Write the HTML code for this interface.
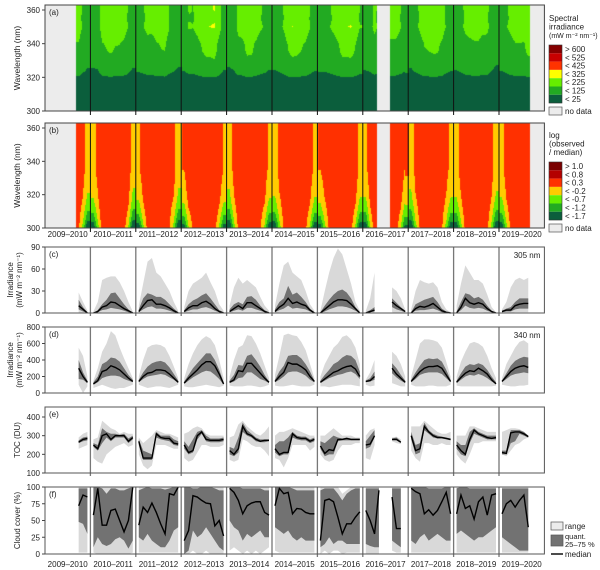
<!DOCTYPE html>
<html><head><meta charset="utf-8">
<style>
body{margin:0;background:#fff;}
#wrap{position:relative;width:600px;height:570px;overflow:hidden;font-family:"Liberation Sans",sans-serif;}
canvas,svg{position:absolute;left:0;top:0;}
</style></head>
<body>
<div id="wrap">
<canvas id="heat" width="600" height="570"></canvas>
<svg id="svg" width="600" height="570" xmlns="http://www.w3.org/2000/svg"></svg>
</div>
<script>
const N=null;
const seasons=["2009–2010","2010–2011","2011–2012","2012–2013","2013–2014","2014–2015","2015–2016","2016–2017","2017–2018","2018–2019","2019–2020"];
// (c) 305 nm irradiance
const cMed=[[N,N,N,N,N,N,N,10,5,0],[0,2,8,10,15,14,10,6,3,0],[2,10,17,18,12,12,10,7,3,0],[2,7,10,10,14,16,12,6,2,0],[2,6,10,6,14,14,10,6,2,0],[2,8,12,20,13,15,12,10,4,0],[0,5,10,15,18,18,17,12,6,0],[0,2,4,N,N,N,15,10,6,2],[0,6,9,8,10,13,8,3,1,0],[0,8,20,14,12,14,12,6,2,0],[2,4,4,10,12,13,13,N,N,N]];
const cQ75=[[N,N,N,N,N,N,N,18,8,1],[0,4,12,18,27,28,20,12,5,0],[5,20,27,25,22,22,18,12,6,1],[4,12,17,20,24,27,20,12,4,1],[5,12,15,12,22,23,18,10,4,1],[5,15,20,37,25,28,22,15,6,1],[1,10,18,25,30,32,28,20,8,1],[1,4,8,N,N,N,20,14,8,3],[1,12,15,18,20,22,15,6,2,0],[2,15,27,25,20,22,18,10,3,0],[3,6,8,15,20,20,20,N,N,N]];
const cQ25=[[N,N,N,N,N,N,N,5,2,0],[0,1,4,5,7,6,5,3,1,0],[1,5,8,9,6,6,5,3,1,0],[1,3,5,5,7,8,6,3,1,0],[1,3,5,3,7,7,5,3,1,0],[1,4,6,10,6,7,6,5,2,0],[0,2,5,7,9,9,8,6,3,0],[0,1,2,N,N,N,8,5,3,1],[0,3,4,4,5,6,4,1,0,0],[0,4,10,7,6,7,6,3,1,0],[1,2,2,5,6,6,6,N,N,N]];
const cMax=[[N,N,N,N,N,N,N,28,15,3],[2,15,45,48,50,50,42,30,15,2],[10,40,70,75,55,50,40,30,15,3],[8,30,40,44,48,55,42,30,12,3],[10,35,48,40,45,40,35,22,10,3],[10,40,65,70,55,50,45,30,12,3],[3,30,55,75,88,80,60,40,15,3],[3,20,55,N,N,N,35,30,20,5],[5,30,45,42,40,42,35,15,5,1],[10,40,65,55,45,45,40,25,8,1],[5,15,35,45,48,45,48,N,N,N]];
const cMin=[[N,N,N,N,N,N,N,0,0,0],[0,0,1,1,1,1,1,0,0,0],[0,1,1,1,1,1,1,0,0,0],[0,0,1,1,1,1,1,0,0,0],[0,1,1,1,1,1,1,0,0,0],[0,1,1,1,1,1,1,0,0,0],[0,0,1,1,1,1,1,1,0,0],[0,0,0,N,N,N,1,0,0,0],[0,0,1,1,1,1,1,0,0,0],[0,1,1,1,1,1,1,0,0,0],[0,0,0,1,1,1,1,N,N,N]];
// (d) 340 nm irradiance
const dMed=[[N,N,N,N,N,N,N,300,200,130],[110,150,260,280,330,310,280,230,180,140],[140,200,240,250,280,280,270,230,180,130],[120,180,230,280,340,380,380,330,230,110],[130,160,270,260,360,360,300,240,180,130],[140,200,250,370,350,350,320,280,200,140],[130,170,210,250,270,300,320,330,290,200],[140,150,200,N,N,N,300,230,180,130],[140,200,260,300,320,320,330,300,220,140],[130,190,240,270,260,300,270,230,160,110],[140,200,260,300,320,330,310,N,N,N]];
const dQ75=[[N,N,N,N,N,N,N,400,250,150],[130,200,350,380,430,420,380,300,220,160],[160,250,320,360,380,390,370,310,230,150],[140,220,300,360,420,480,480,400,280,130],[150,220,340,330,450,470,400,320,220,140],[160,260,330,450,460,460,420,350,260,150],[150,220,280,350,380,430,460,450,400,260],[150,180,260,N,N,N,360,300,220,150],[160,250,330,400,420,410,420,380,280,160],[150,240,320,350,340,360,340,280,200,130],[150,240,330,390,420,440,430,N,N,N]];
const dQ25=[[N,N,N,N,N,N,N,170,160,120],[100,130,180,200,210,210,200,170,150,130],[130,170,200,210,220,230,220,190,160,120],[110,150,190,220,250,270,260,220,170,100],[120,140,180,190,250,250,210,170,150,120],[130,160,200,250,260,260,240,210,160,130],[120,150,180,200,220,230,250,260,230,170],[130,140,160,N,N,N,240,190,150,120],[130,170,220,240,250,250,250,230,180,130],[120,160,200,220,210,230,210,180,140,110],[130,170,210,230,240,250,240,N,N,N]];
const dMax=[[N,N,N,N,N,N,N,550,450,200],[150,300,500,600,750,700,550,420,300,180],[200,400,550,580,590,580,550,450,320,180],[180,350,480,580,650,690,660,580,400,180],[200,400,550,580,700,690,600,480,330,180],[220,450,700,720,700,690,620,520,350,180],[200,350,450,550,600,680,700,650,550,350],[160,250,400,N,N,N,500,450,350,200],[200,400,600,650,650,640,620,550,380,200],[200,380,500,600,620,600,560,450,300,180],[180,350,450,550,620,640,600,N,N,N]];
const dMin=[[N,N,N,N,N,N,N,100,0,80],[60,80,100,80,60,50,60,60,80,100],[100,80,60,70,80,80,70,60,80,100],[80,70,70,80,90,100,90,80,70,90],[90,80,80,80,90,90,80,70,80,100],[90,80,80,90,100,90,80,80,80,100],[80,80,70,80,90,100,100,100,90,80],[100,80,90,N,N,N,120,100,80,80],[100,80,80,80,90,90,80,80,80,100],[90,80,80,80,80,80,80,80,80,90],[100,90,80,80,90,90,100,N,N,N]];
// (e) total ozone column
const eMed=[[N,N,N,N,N,N,N,265,280,285],[250,230,300,310,280,300,300,300,270,290],[270,180,180,180,310,290,285,285,260,255],[250,210,220,300,320,280,275,275,275,280],[220,200,230,350,310,300,280,270,275,275],[230,200,210,210,310,290,285,285,270,280],[245,205,225,220,280,280,285,280,280,280],[250,255,300,N,N,N,280,280,265,N],[300,220,230,350,320,300,290,290,285,280],[250,220,200,280,330,310,300,290,285,290],[210,205,315,320,320,310,295,N,N,N]];
const eQ75=[[N,N,N,N,N,N,N,275,290,295],[260,250,340,320,310,310,305,310,285,300],[280,220,210,200,320,300,300,300,280,270],[270,240,280,320,330,300,285,285,285,290],[240,230,290,370,330,310,290,280,280,280],[250,270,270,290,320,300,295,295,280,290],[270,260,280,300,290,285,290,285,285,285],[270,300,330,N,N,N,285,290,270,N],[320,250,260,370,330,310,300,295,290,285],[270,250,250,320,340,320,310,300,300,300],[220,220,330,330,330,320,300,N,N,N]];
const eQ25=[[N,N,N,N,N,N,N,260,270,275],[240,220,260,290,270,290,290,290,260,280],[250,170,170,170,290,280,275,270,250,245],[230,200,210,280,310,270,265,265,265,270],[200,190,210,320,300,290,270,265,265,270],[210,190,200,200,290,280,275,275,260,270],[230,190,200,200,270,275,275,275,275,275],[230,240,290,N,N,N,275,275,260,N],[280,200,210,330,310,290,285,285,280,275],[230,200,190,260,310,300,290,280,280,280],[200,200,260,270,310,300,290,N,N,N]];
const eMax=[[N,N,N,N,N,N,N,290,310,320],[280,290,380,360,340,330,310,320,310,310],[290,260,280,300,330,320,310,310,300,290],[310,320,340,350,340,310,300,300,300,300],[290,300,360,380,350,330,310,300,320,350],[300,320,320,330,340,330,320,310,300,300],[300,300,320,340,320,300,300,300,290,290],[300,330,340,N,N,N,290,295,280,N],[350,350,350,380,360,340,320,310,310,320],[300,300,300,350,350,340,330,320,320,320],[320,330,340,340,335,320,300,N,N,N]];
const eMin=[[N,N,N,N,N,N,N,230,240,250],[180,160,150,200,220,240,250,260,240,250],[200,140,120,140,250,250,250,240,230,230],[180,160,170,210,250,250,240,240,240,250],[170,160,170,280,270,250,240,240,220,190],[180,170,130,180,250,250,250,250,220,240],[200,170,160,170,220,250,250,250,260,260],[180,170,250,N,N,N,270,260,255,N],[220,180,160,260,260,250,250,260,250,250],[200,170,150,200,260,260,270,270,270,270],[200,190,220,250,260,280,290,N,N,N]];
// (f) cloud cover
const fMed=[[N,N,N,N,N,N,N,72,88,85],[58,98,43,43,65,67,50,33,50,100],[43,70,62,76,62,45,30,90,88,100],[20,35,87,85,80,76,75,42,50,27],[98,92,80,60,72,76,78,78,62,58],[72,98,90,92,60,68,67,62,60,60],[20,80,82,78,55,30,45,45,55,63],[65,50,30,95,N,N,85,38,38,N],[98,93,90,60,66,58,65,78,92,60],[60,88,68,72,52,78,85,58,88,90],[60,75,80,70,80,88,40,N,N,N]];
const fQ75=[[N,N,N,N,N,N,N,98,98,98],[100,100,98,90,98,98,95,95,98,100],[95,98,100,98,98,98,96,98,100,100],[100,100,98,98,100,100,100,98,95,95],[100,100,100,98,98,98,98,98,95,95],[100,100,100,100,98,95,95,95,95,95],[95,98,98,98,90,80,90,95,98,98],[98,98,98,98,N,N,98,98,98,N],[100,100,100,100,98,98,98,98,100,100],[98,100,100,98,98,98,98,98,98,98],[98,98,98,98,98,98,98,N,N,N]];
const fQ25=[[N,N,N,N,N,N,N,48,45,30],[10,25,15,12,15,22,25,20,8,20],[25,20,30,20,15,10,10,20,35,40],[0,5,35,25,30,40,30,20,10,5],[50,40,35,20,30,25,30,35,25,25],[40,35,30,35,25,20,25,20,20,20],[10,15,25,15,20,20,15,15,15,15],[15,12,10,10,N,N,20,15,10,N],[20,15,25,30,20,25,30,25,20,20],[30,35,30,25,20,25,25,30,35,40],[25,20,15,10,5,5,5,N,N,N]];
const fMax=[[N,N,N,N,N,N,N,100,100,100],[100,100,100,100,100,100,100,100,100,100],[100,100,100,100,100,100,100,100,100,100],[100,100,100,100,100,100,100,100,100,100],[100,100,100,100,100,100,100,100,100,100],[100,100,100,100,100,100,100,100,100,100],[100,100,100,100,100,90,95,100,100,100],[100,100,100,100,N,N,100,100,100,N],[100,100,100,100,100,100,100,100,100,100],[100,100,100,100,100,100,100,100,100,100],[100,100,100,100,100,100,100,N,N,N]];
const fMin=[[N,N,N,N,N,N,N,2,2,2],[2,0,0,0,0,0,0,0,0,2],[2,2,2,2,2,2,2,2,2,2],[0,0,5,0,0,5,0,0,0,0],[5,10,5,0,5,0,5,0,5,10],[5,2,2,2,2,2,2,2,2,2],[0,5,0,5,5,0,2,2,2,2],[0,0,0,0,N,N,5,2,2,N],[2,2,2,2,2,2,2,2,2,2],[2,2,2,2,2,2,2,2,2,2],[2,2,2,2,2,2,2,N,N,N]];
// heatmap descriptors (wavelength rows 300..365 nm step 5)
const waveRows=[300,305,310,315,320,325,330,335,340,345,350,355,360,365];
const aWave=[0.02,0.03,0.04,0.05,0.07,0.22,0.35,0.42,0.45,0.55,0.68,0.62,0.66,0.66];
const bMonth=[-0.3,0.1,0.2,0.2,0.15,0.15,0.2,0.15,0.1,-0.3];
const bEdge=[1,0.5,0.1,0,0,0,0,0.1,0.5,1];
const bWave=[-1.8,-1.2,-0.8,-0.5,-0.3,-0.2,-0.1,0,0,0,0,0,0,0];
const aBins=[25,125,225,325,425,525];
const aCols=["#0b5e3c","#22aa22","#66ee00","#ffff00","#ff3300","#c80000","#850000"];
const bBins=[-1.7,-1.2,-0.7,-0.2,0.3,0.8];
const bCols=["#0b5e3c","#22aa22","#66ee00","#ffcc00","#ff3000","#b40000","#7a0000"];
const aLegend=["> 600","< 525","< 425","< 325","< 225","< 125","< 25"];
const bLegend=[">  1.0","<  0.8","<  0.3","< -0.2","< -0.7","< -1.2","< -1.7"];

const X0=45,SW=45.4,STEP=(SW-6)/9;
const px=(s,i)=>X0+s*SW+3+i*STEP;
const panels=[
 {key:"c",top:247,bot:313,y:v=>313-v*66/90,ticks:[0,30,60,90],med:cMed,q25:cQ25,q75:cQ75,mn:cMin,mx:cMax,lab:"(c)",title:["Irradiance","(mW m\u207B\u00B2 nm\u207B\u00B9)"],note:"305 nm"},
 {key:"d",top:327,bot:393,y:v=>393-v*66/800,ticks:[0,200,400,600,800],med:dMed,q25:dQ25,q75:dQ75,mn:dMin,mx:dMax,lab:"(d)",title:["Irradiance","(mW m\u207B\u00B2 nm\u207B\u00B9)"],note:"340 nm"},
 {key:"e",top:407,bot:473,y:v=>473-(v-100)*56/300,ticks:[100,200,300,400],med:eMed,q25:eQ25,q75:eQ75,mn:eMin,mx:eMax,lab:"(e)",title:["TOC (DU)"]},
 {key:"f",top:487,bot:554,y:v=>554-v*0.67,ticks:[0,25,50,75,100],med:fMed,q25:fQ25,q75:fQ75,mn:fMin,mx:fMax,lab:"(f)",title:["Cloud cover (%)"]}
];
const svg=document.getElementById('svg');
const NS="http://www.w3.org/2000/svg";
function mk(tag,attrs,parent){const e=document.createElementNS(NS,tag);for(const k in attrs)e.setAttribute(k,attrs[k]);(parent||svg).appendChild(e);return e;}
function txt(x,y,s,size,anchor,parent){const t=mk('text',{x:x,y:y,'font-size':size,'text-anchor':anchor||'start',fill:'#222','font-family':'Liberation Sans, sans-serif'},parent);t.textContent=s;return t;}

// ---------- heatmaps ----------
const ctx=document.getElementById('heat').getContext('2d');
function interp(arr,t){const i0=Math.floor(t),i1=Math.min(9,i0+1);const a=arr[i0],b=arr[i1];if(a==null)return b;if(b==null)return a;return a+(b-a)*(t-i0);}
function waveInterp(arr,w){const k=(w-300)/5;const i0=Math.max(0,Math.min(12,Math.floor(k)));const f=Math.min(1,Math.max(0,k-i0));return arr[i0]+(arr[i0+1]-arr[i0])*f;}
function binCol(v,bins,cols){for(let i=0;i<bins.length;i++)if(v<bins[i])return cols[i];return cols[cols.length-1];}
function drawHeat(top,bot,w300y,pxPerNm,mode){
 for(let x=X0;x<X0+11*SW;x++){
  const s=Math.min(10,Math.floor((x-X0)/SW));
  let t=(x+0.5-X0-s*SW-3)/STEP;t=Math.max(0,Math.min(9,t));
  const r=Math.round(t);
  if(dMed[s][r]==null){ctx.fillStyle='#ececec';ctx.fillRect(x,top,1,bot-top);continue;}
  const d=interp(dMed[s],t),cl=interp(fMed[s],t);
  const m=1.25-cl/100*0.5;
  for(let y=top;y<bot;y++){
   const w=300+(w300y-y-0.5)/pxPerNm;
   let col;
   if(mode==='a'){col=binCol(d*m*waveInterp(aWave,w),aBins,aCols);}
   else{const v=interp(bMonth,t)+interp(bEdge,t)*waveInterp(bWave,w)+(50-cl)/100*0.35;col=binCol(v,bBins,bCols);}
   ctx.fillStyle=col;ctx.fillRect(x,y,1,1);
  }
 }
}
drawHeat(5,111,111,101/60,'a');
drawHeat(123,228,228,100/60,'b');

// heatmap frames / axes
[[5,111,"(a)",111,101/60,"a"],[123,228,"(b)",228,100/60,"b"]].forEach(([top,bot,lab,y300,k,key])=>{
 const g=mk('g',{});
 
 
 mk('rect',{x:X0,y:top,width:11*SW,height:bot-top,fill:'none',stroke:'#444','stroke-width':1},g);
 for(let s=1;s<11;s++){const l=mk('line',{x1:X0+s*SW,x2:X0+s*SW,y1:top,y2:bot+4,stroke:'#111','stroke-width':1},g);}
 [300,320,340,360].forEach(w=>{const y=y300-(w-300)*k;mk('line',{x1:X0-3,x2:X0,y1:y,y2:y,stroke:'#444'},g);const t=txt(X0-5,y+3,String(w),8,'end',g);});
 const pl=txt(X0+4,top+10,lab,8,'start',g);
 const yt=txt(0,0,"Wavelength (nm)",8.5,'middle',g);yt.setAttribute('transform',`translate(20,${(top+bot)/2}) rotate(-90)`);
 
});
seasons.forEach((s,i)=>{const t=txt(X0+i*SW+SW/2,237,s,8,'middle');
 const t2=txt(X0+i*SW+SW/2,567,s,8,'middle');});

// ---------- line panels ----------
function segments(arr){const segs=[];let cur=[];arr.forEach((v,i)=>{if(v==null){if(cur.length)segs.push(cur);cur=[];}else cur.push(i);});if(cur.length)segs.push(cur);return segs;}
panels.forEach(p=>{
 const g=mk('g',{});
 
 
 for(let s=0;s<11;s++){
  segments(p.med[s]).forEach(seg=>{
   const band=(lo,hi,col,name)=>{const up=seg.map(i=>px(s,i)+','+p.y(hi[s][i]));const dn=seg.slice().reverse().map(i=>px(s,i)+','+p.y(lo[s][i]));const e=mk('polygon',{points:up.concat(dn).join(' '),fill:col},g);};
   band(p.mn,p.mx,'#d9d9d9','range-band');
   band(p.q25,p.q75,'#727272','quantile-band');
   const l=mk('polyline',{points:seg.map(i=>px(s,i)+','+p.y(p.med[s][i])).join(' '),fill:'none',stroke:'#000','stroke-width':1.4},g);
   
   
  });
 }
 for(let s=1;s<11;s++){const l=mk('line',{x1:X0+s*SW,x2:X0+s*SW,y1:p.top,y2:p.bot+3,stroke:'#777','stroke-width':1.3},g);}
 mk('rect',{x:X0,y:p.top,width:11*SW,height:p.bot-p.top,fill:'none',stroke:'#555','stroke-width':1},g);
 p.ticks.forEach(v=>{const y=p.y(v);mk('line',{x1:X0-3,x2:X0,y1:y,y2:y,stroke:'#444'},g);const t=txt(X0-5,y+3,String(v),8,'end',g);});
 const pl=txt(X0+4,p.top+10,p.lab,8,'start',g);
 if(p.note){const n=txt(X0+11*SW-4,p.top+11,p.note,8,'end',g);}
 const cy=(p.top+p.bot)/2;
 p.title.forEach((line,k)=>{const t=txt(0,0,line,8,'middle',g);const xx=p.title.length>1?(13+k*9):20;t.setAttribute('transform',`translate(${xx},${cy}) rotate(-90)`);});
});

// ---------- legends ----------
function colorLegend(top,titleLines,cols,labels,name){
 const g=mk('g',{});
 
 
 titleLines.forEach((l,i)=>txt(549,top+i*8.5,l,i==2&&name=='legend-irradiance'?7:8,'start',g));
 const y0=top+24;
 for(let i=0;i<7;i++){const c=cols[6-i];mk('rect',{x:549,y:y0+i*8.3,width:13,height:8.3,fill:c},g);const t=txt(565,y0+i*8.3+7,labels[i],8,'start',g);}
 mk('rect',{x:549,y:y0,width:13,height:58,fill:'none',stroke:'#333','stroke-width':0.6},g);
 mk('rect',{x:549,y:y0+62,width:13,height:8,fill:'#ececec',stroke:'#555','stroke-width':0.7},g);
 txt(565,y0+69,"no data",8,'start',g);
}
colorLegend(21,["Spectral","irradiance","(mW m\u207B\u00B2 nm\u207B\u00B9)"],aCols,aLegend,'legend-irradiance');
colorLegend(138,["log","(observed","/ median)"],bCols,bLegend,'legend-log-ratio');
const lg=mk('g',{});


mk('rect',{x:551,y:522,width:12,height:8,fill:'#ececec',stroke:'#555','stroke-width':0.7},lg);
txt(565,529,"range",8,'start',lg);
mk('rect',{x:551,y:535,width:12,height:11,fill:'#727272',stroke:'#555','stroke-width':0.7},lg);
txt(565,539,"quant.",7.5,'start',lg);
txt(565,547,"25–75 %",7.5,'start',lg);
mk('line',{x1:551,x2:563,y1:554,y2:554,stroke:'#000','stroke-width':1.4},lg);
txt(565,557,"median",8,'start',lg);
</script>
</body></html>
